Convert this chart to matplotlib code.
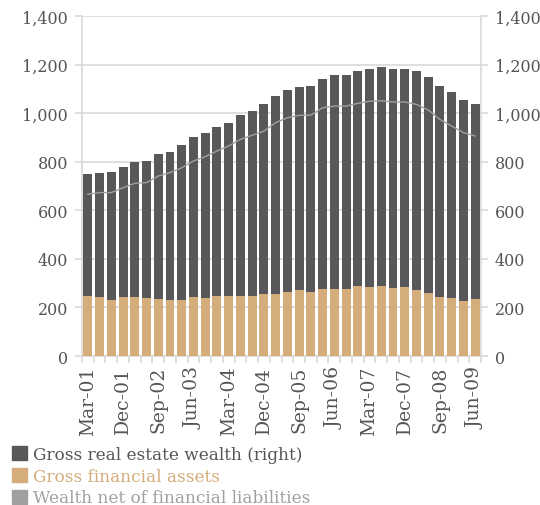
import matplotlib.pyplot as plt
from matplotlib.patches import Patch
import numpy as np

months = ['Mar', 'Jun', 'Sep', 'Dec']
quarters = ['%s-%02d' % (months[i % 4], 1 + i // 4) for i in range(34)]

real_estate = [748, 752, 756, 777, 797, 801, 830, 839, 867, 900,
               917, 941, 958, 991, 1007, 1036, 1069, 1094, 1106, 1110,
               1139, 1156, 1156, 1172, 1180, 1189, 1180, 1180, 1172, 1147,
               1110, 1086, 1053, 1036]
financial = [246, 242, 229, 242, 242, 237, 233, 229, 229, 242,
             237, 246, 246, 246, 246, 254, 254, 262, 270, 262,
             274, 274, 274, 287, 283, 287, 279, 283, 270, 258,
             242, 237, 225, 233]
net_wealth = [666, 673, 673, 693, 711, 714, 741, 755, 775, 803,
              821, 844, 865, 892, 909, 926, 961, 981, 991, 992,
              1022, 1029, 1029, 1040, 1049, 1051, 1046, 1046, 1036, 1013,
              974, 947, 920, 906]

dark = '#58585a'
tan = '#d4ad7a'
grey_line = '#a0a0a0'
txt = '#555555'
grid_c = '#d9d9d9'

plt.rcParams['font.family'] = 'DejaVu Serif'

fig = plt.figure(figsize=(5.4, 5.06), dpi=100)
ax = fig.add_axes([82 / 540, 1 - 357 / 506, 399 / 540, 340 / 506])

x = np.arange(len(quarters))
ax.bar(x, real_estate, width=0.76, color=dark, zorder=2)
ax.bar(x, financial, width=0.76, color=tan, zorder=3)
ax.plot(x, net_wealth, color=grey_line, lw=1.0, zorder=4)

ax.set_xlim(-0.5, len(quarters) - 0.5)
ax.set_ylim(0, 1400)
ax.set_yticks(range(0, 1401, 200))
ax.set_yticklabels(['{:,}'.format(v) for v in range(0, 1401, 200)])
ax.yaxis.grid(True, color=grid_c, lw=1.2, zorder=0)
ax.set_axisbelow(True)

ax.set_xticks(x[::3])
ax.set_xticklabels(quarters[::3], rotation=90)
ax.set_xticks(np.arange(-0.5, len(quarters), 1), minor=True)
ax.tick_params(axis='x', which='major', length=0, pad=7, labelsize=13.5, colors=txt)
ax.tick_params(axis='x', which='minor', length=5, color=grid_c, width=1.2)
ax.tick_params(axis='y', length=5, width=1.2, color=grid_c, labelsize=11.5,
               labelcolor=txt, right=True, labelright=True, pad=5)

for s in ['left', 'right', 'bottom']:
    ax.spines[s].set_color(grid_c)
    ax.spines[s].set_linewidth(1.2)
ax.spines['top'].set_visible(False)

handles = [Patch(color=dark), Patch(color=tan), Patch(color=grey_line)]
labels = ['Gross real estate wealth (right)', 'Gross financial assets',
          'Wealth net of financial liabilities']
leg = fig.legend(handles, labels, loc='upper left', bbox_to_anchor=(0.01, 0.13),
                 frameon=False, fontsize=12.2, handlelength=0.9, handleheight=0.9,
                 handletextpad=0.3, labelspacing=0.28, borderaxespad=0)
for t, c in zip(leg.get_texts(), [txt, tan, grey_line]):
    t.set_color(c)

fig.savefig('out.png', dpi=100)
